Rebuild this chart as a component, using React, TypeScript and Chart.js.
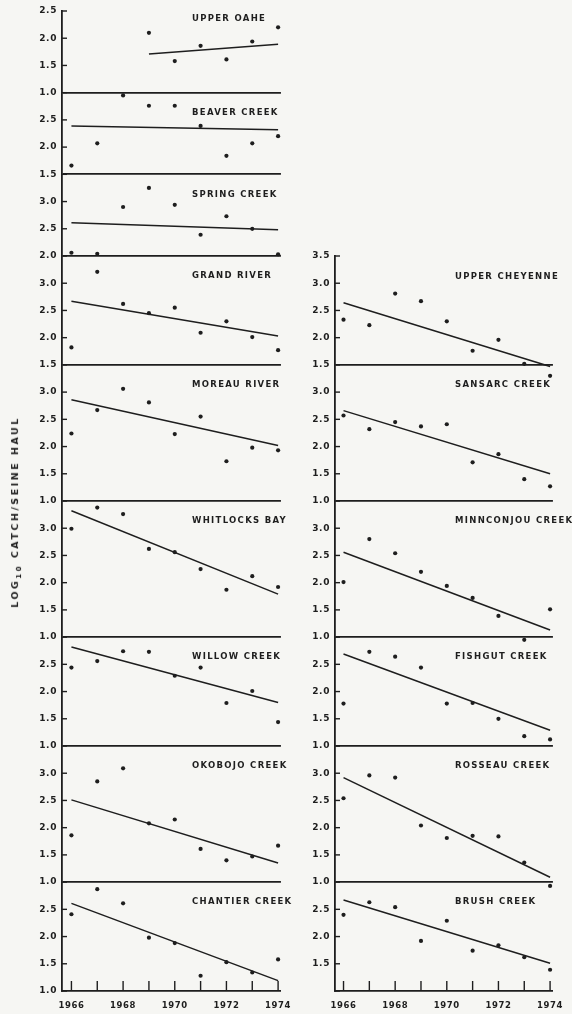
import React, { useEffect, useRef } from 'react';
import { Chart, registerables } from 'chart.js';
Chart.register(...registerables);

// ---------- data ----------
const years = [1966, 1967, 1968, 1969, 1970, 1971, 1972, 1973, 1974];
const xTickLabels = ['1966', '1968', '1970', '1972', '1974'];
const yAxisTitleMain = 'LOG';
const yAxisTitleSub = '10';
const yAxisTitleRest = ' CATCH/SEINE HAUL';

// left column (top to bottom)
const leftNames = ['UPPER OAHE', 'BEAVER CREEK', 'SPRING CREEK', 'GRAND RIVER', 'MOREAU RIVER', 'WHITLOCKS BAY', 'WILLOW CREEK', 'OKOBOJO CREEK', 'CHANTIER CREEK'];
const leftRanges = [[1.0, 2.5], [1.5, 3.0], [2.0, 3.5], [1.5, 3.5], [1.0, 3.5], [1.0, 3.5], [1.0, 3.0], [1.0, 3.5], [1.0, 3.0]];
const upperOahe = [null, null, null, 2.10, 1.58, 1.86, 1.61, 1.94, 2.20];
const beaverCreek = [1.66, 2.07, 2.95, 2.76, 2.76, 2.39, 1.84, 2.07, 2.20];
const springCreek = [2.06, 2.04, 2.90, 3.25, 2.94, 2.39, 2.73, 2.50, 2.03];
const grandRiver = [1.82, 3.21, 2.62, 2.45, 2.55, 2.09, 2.30, 2.01, 1.77];
const moreauRiver = [2.24, 2.67, 3.06, 2.81, 2.23, 2.55, 1.73, 1.98, 1.93];
const whitlocksBay = [2.99, 3.38, 3.26, 2.62, 2.56, 2.25, 1.87, 2.12, 1.92];
const willowCreek = [2.44, 2.56, 2.74, 2.73, 2.29, 2.44, 1.79, 2.01, 1.44];
const okobojoCreek = [1.86, 2.85, 3.09, 2.08, 2.15, 1.61, 1.40, 1.47, 1.67];
const chantierCreek = [2.41, 2.87, 2.61, 1.98, 1.88, 1.28, 1.53, 1.34, 1.58];
const leftSeries = [upperOahe, beaverCreek, springCreek, grandRiver, moreauRiver, whitlocksBay, willowCreek, okobojoCreek, chantierCreek];
// regression lines: [value at start year, value at 1974]
const leftTrends = [[1.71, 1.89], [2.39, 2.32], [2.61, 2.48], [2.67, 2.03], [2.86, 2.02], [3.32, 1.79], [2.82, 1.80], [2.51, 1.35], [2.61, 1.19]];
const leftTrendFrom = [1969, 1966, 1966, 1966, 1966, 1966, 1966, 1966, 1966];

// right column (top to bottom)
const rightNames = ['UPPER CHEYENNE', 'SANSARC CREEK', 'MINNCONJOU CREEK', 'FISHGUT CREEK', 'ROSSEAU CREEK', 'BRUSH CREEK'];
const rightRanges = [[1.5, 3.5], [1.0, 3.5], [1.0, 3.5], [1.0, 3.0], [1.0, 3.5], [1.0, 3.0]];
const upperCheyenne = [2.33, 2.23, 2.81, 2.67, 2.30, 1.76, 1.96, 1.52, 1.30];
const sansarcCreek = [2.57, 2.32, 2.45, 2.37, 2.41, 1.71, 1.86, 1.40, 1.27];
const minnconjouCreek = [2.01, 2.80, 2.54, 2.20, 1.94, 1.72, 1.39, 0.95, 1.51];
const fishgutCreek = [1.78, 2.73, 2.64, 2.44, 1.78, 1.79, 1.50, 1.18, 1.12];
const rosseauCreek = [2.54, 2.96, 2.92, 2.04, 1.81, 1.85, 1.84, 1.36, 0.93];
const brushCreek = [2.40, 2.63, 2.54, 1.92, 2.29, 1.74, 1.84, 1.62, 1.39];
const rightSeries = [upperCheyenne, sansarcCreek, minnconjouCreek, fishgutCreek, rosseauCreek, brushCreek];
const rightTrends = [[2.64, 1.47], [2.66, 1.50], [2.56, 1.13], [2.69, 1.29], [2.92, 1.09], [2.67, 1.51]];
const rightTrendFrom = [1966, 1966, 1966, 1966, 1966, 1966];

// ---------- styling ----------
const INK = '#1e1e1e';
const FONT = '"DejaVu Sans", sans-serif';
const BG = '#f6f6f3';

type Panel = { name: string; range: number[]; values: (number | null)[]; trend: number[]; trendFrom: number };

function makePanels(names: string[], ranges: number[][], series: (number | null)[][], trends: number[][], from: number[]): Panel[] {
  return names.map((name, i) => ({ name, range: ranges[i], values: series[i], trend: trends[i], trendFrom: from[i] }));
}

type ColProps = {
  panels: Panel[];
  left: number;
  width: number;
  axisWidth: number;
  padTop: number;
  padRight: number;
  xMin: number;
  xMax: number;
  titleX: number;
  firstTitleOffset: number;
  showBottomLabel: boolean;
};

function Column(props: ColProps) {
  const ref = useRef<HTMLCanvasElement | null>(null);
  useEffect(() => {
    const { panels, axisWidth, padTop, padRight, xMin, xMax, titleX, firstTitleOffset, showBottomLabel } = props;
    const layout: { base: number; span: number }[] = [];
    let base = 0;
    for (let i = panels.length - 1; i >= 0; i--) {
      const span = panels[i].range[1] - panels[i].range[0];
      layout[i] = { base, span };
      base += span;
    }
    const total = base;
    const eps = 1e-6;
    const toG = (i: number, v: number) => v - panels[i].range[0] + layout[i].base;
    const boundaries = layout.map((l) => l.base).filter((b) => b > eps);
    const isBoundary = (v: number | undefined) => v !== undefined && boundaries.some((b) => Math.abs(b - v) < eps);
    const yTicks: number[] = [];
    for (let v = 0; v <= total + eps; v += 0.5) yTicks.push(Math.round(v * 10) / 10);

    const labelFor = (g: number): string => {
      if (g < eps && !showBottomLabel) return '';
      if (Math.abs(g - total) < eps) return panels[0].range[1].toFixed(1);
      for (let i = 0; i < panels.length; i++) {
        const l = layout[i];
        if (g >= l.base - eps && g < l.base + l.span - eps) return (panels[i].range[0] + (g - l.base)).toFixed(1);
      }
      return '';
    };

    const datasets: any[] = [];
    panels.forEach((p, i) => {
      const pts = years
        .map((yr, k) => (p.values[k] == null ? null : { x: yr, y: toG(i, p.values[k] as number) }))
        .filter((d) => d !== null);
      datasets.push({
        type: 'scatter',
        data: pts,
        pointRadius: 2.1,
        pointBackgroundColor: INK,
        pointBorderWidth: 0,
        showLine: false,
      });
      datasets.push({
        type: 'line',
        data: [
          { x: p.trendFrom, y: toG(i, p.trend[0]) },
          { x: years[years.length - 1], y: toG(i, p.trend[1]) },
        ],
        borderColor: INK,
        borderWidth: 1.5,
        pointRadius: 0,
        fill: false,
      });
    });

    const deco = {
      id: 'deco',
      beforeDraw(chart: any) {
        chart.ctx.letterSpacing = '0.6px';
      },
      afterDraw(chart: any) {
        const { ctx, chartArea, scales } = chart;
        const xs = scales.x;
        const ys = scales.y;
        ctx.save();
        ctx.strokeStyle = INK;
        ctx.lineWidth = 1.4;
        yTicks.forEach((v) => {
          const y = ys.getPixelForValue(v);
          ctx.beginPath();
          ctx.moveTo(chartArea.left, y);
          ctx.lineTo(chartArea.left + 5, y);
          ctx.stroke();
        });
        years.forEach((v) => {
          const x = xs.getPixelForValue(v);
          ctx.beginPath();
          ctx.moveTo(x, chartArea.bottom);
          ctx.lineTo(x, chartArea.bottom - 10);
          ctx.stroke();
        });
        ctx.fillStyle = INK;
        ctx.font = `bold 8.5px ${FONT}`;
        ctx.letterSpacing = '1.3px';
        ctx.textAlign = 'left';
        ctx.textBaseline = 'middle';
        panels.forEach((p, i) => {
          const top = ys.getPixelForValue(layout[i].base + layout[i].span);
          ctx.fillText(p.name, titleX, top + (i === 0 ? firstTitleOffset : 20));
        });
        ctx.restore();
      },
    };

    const chart = new Chart(ref.current as HTMLCanvasElement, {
      type: 'scatter',
      data: { datasets },
      options: {
        animation: false,
        responsive: false,
        devicePixelRatio: 1,
        layout: { padding: { left: 0, top: padTop, right: padRight, bottom: 0 } },
        plugins: { legend: { display: false }, tooltip: { enabled: false } },
        scales: {
          x: {
            type: 'linear',
            min: xMin,
            max: xMax,
            afterBuildTicks: (s: any) => {
              s.ticks = years.map((v) => ({ value: v }));
            },
            afterFit: (s: any) => {
              s.height = 23;
            },
            ticks: {
              autoSkip: false,
              maxRotation: 0,
              padding: 10,
              color: INK,
              font: { family: FONT, size: 8.5, weight: 'bold' },
              callback: (v: any) => (xTickLabels.includes(String(v)) ? String(v) : ''),
            },
            grid: { drawOnChartArea: false, drawTicks: false },
            border: { color: INK, width: 1.8 },
          },
          y: {
            type: 'linear',
            min: 0,
            max: total,
            afterBuildTicks: (s: any) => {
              s.ticks = yTicks.map((v) => ({ value: v }));
            },
            afterFit: (s: any) => {
              s.width = axisWidth;
            },
            ticks: {
              autoSkip: false,
              padding: 5,
              color: INK,
              font: { family: FONT, size: 9, weight: 'bold' },
              callback: (v: any) => labelFor(Number(v)),
            },
            grid: {
              drawTicks: false,
              color: (c: any) => (isBoundary(c.tick ? c.tick.value : undefined) ? INK : 'rgba(0,0,0,0)'),
              lineWidth: 1.7,
            },
            border: { color: INK, width: 1.8 },
          },
        },
      } as any,
      plugins: [deco as any],
    });
    return () => chart.destroy();
  }, []);
  return (
    <canvas
      ref={ref}
      width={props.width}
      height={1014}
      style={{ position: 'absolute', left: props.left, top: 0, width: props.width, height: 1014 }}
    />
  );
}

export default function App() {
  const leftPanels = makePanels(leftNames, leftRanges, leftSeries, leftTrends, leftTrendFrom);
  const rightPanels = makePanels(rightNames, rightRanges, rightSeries, rightTrends, rightTrendFrom);
  return (
    <div style={{ position: 'absolute', left: 0, top: 0, width: 572, height: 1014, background: BG, overflow: 'hidden' }}>
      <Column
        panels={leftPanels}
        left={0}
        width={300}
        axisWidth={62}
        padTop={11}
        padRight={6}
        xMin={1965.635}
        xMax={1974.11}
        titleX={192}
        firstTitleOffset={8}
        showBottomLabel={true}
      />
      <Column
        panels={rightPanels}
        left={280}
        width={292}
        axisWidth={55}
        padTop={256}
        padRight={7}
        xMin={1965.67}
        xMax={1974.11}
        titleX={175}
        firstTitleOffset={21}
        showBottomLabel={false}
      />
      <div
        style={{
          position: 'absolute',
          left: 17,
          top: 512,
          transform: 'translate(-50%, -50%) rotate(-90deg)',
          whiteSpace: 'nowrap',
          fontFamily: FONT,
          fontWeight: 'bold',
          fontSize: 9.5,
          letterSpacing: '2.5px',
          color: INK,
          lineHeight: '12px',
        }}
      >
        {yAxisTitleMain}
        <sub style={{ fontSize: 7 }}>{yAxisTitleSub}</sub>
        {yAxisTitleRest}
      </div>
    </div>
  );
}
